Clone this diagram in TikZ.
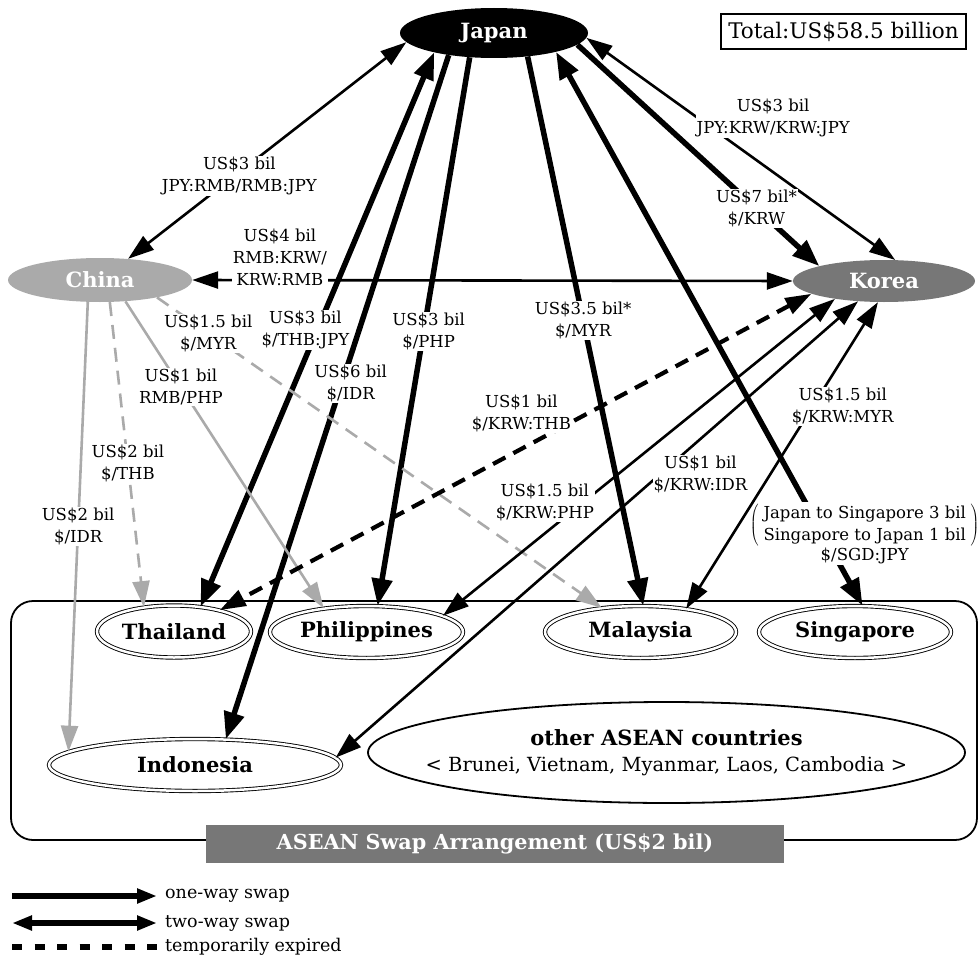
\documentclass[tikz,border=0pt]{standalone}
\usepackage{fontspec}
\setmainfont{DejaVu Serif}
\usetikzlibrary{shapes.geometric,arrows.meta,positioning}
\definecolor{cngray}{HTML}{AAAAAA}
\definecolor{krgray}{HTML}{777777}
\tikzset{
  big/.style={ellipse, inner sep=0pt, text=white, font=\fontsize{21}{25}\selectfont\bfseries},
  member/.style={ellipse, draw, double, double distance=2.5pt, line width=0.9pt,
    inner sep=0pt, minimum height=52pt, font=\fontsize{21}{25}\selectfont\bfseries},
  lbl/.style={fill=white, text=black, inner sep=1pt, align=center,
    font=\fontsize{16.5}{22}\selectfont},
  pact/.style={line width=2.6pt, >={Triangle[length=26pt,width=17pt]}},
  fat/.style={line width=5.5pt, >={Triangle[length=27pt,width=20pt]}},
  cn/.style={pact, cngray},
  gone/.style={dash pattern=on 14pt off 9pt},
  keyline/.style={line width=5.5pt, >={Triangle[length=20pt,width=14pt]}},
  keytext/.style={font=\fontsize{17.5}{20}\selectfont, inner sep=0pt}
}
\begin{document}
\begin{tikzpicture}[x=1pt, y=-1pt]
\useasboundingbox (0,0) rectangle (978,958);

% ASEAN frame
\node[draw, line width=1.8pt, rounded corners=22pt, minimum width=966pt,
  minimum height=239pt] (region) at (494,720.5) {};
\node[fill=krgray, text=white, inner sep=0pt, minimum width=578pt, minimum height=38pt,
  font=\fontsize{20.7}{24}\selectfont\bfseries] (swaparr) at (495,844)
  {ASEAN Swap Arrangement (US\$2 bil)};

\node[big, fill=black, minimum width=188pt, minimum height=50pt] (japan) at (494,33) {Japan};
\node[big, fill=cngray, minimum width=184pt, minimum height=44pt] (china) at (100,280) {China};
\node[big, fill=krgray, minimum width=182pt, minimum height=42pt] (korea) at (884,281) {Korea};
\node[draw, line width=1.1pt, minimum width=245pt, minimum height=35pt, inner sep=0pt,
  font=\fontsize{21.5}{24}\selectfont] (total) at (843.5,31.5) {Total:US\$58.5 billion};

\node[member, minimum width=154pt] (thailand) at (174,631.5) {Thailand};
\node[member, minimum width=193pt] (philippines) at (366.5,632) {Philippines};
\node[member, minimum width=191pt] (malaysia) at (640.5,632) {Malaysia};
\node[member, minimum width=192pt] (singapore) at (855,632) {Singapore};
\node[member, minimum width=292pt] (indonesia) at (195,765) {Indonesia};
\node[ellipse, draw, line width=1.8pt, inner ysep=0pt, inner xsep=-80pt, minimum width=597pt,
  minimum height=101pt, align=center, font=\fontsize{21}{26}\selectfont] (others) at (666.5,752.5)
  {\textbf{other ASEAN countries}\\{\fontsize{19.5}{22}\selectfont < Brunei, Vietnam, Myanmar, Laos, Cambodia >}};

% Japan
\draw[pact,<->] (japan.186) -- node[lbl, pos=0.6, yshift=-4pt] (jpcn) {US\$3 bil\\JPY:RMB/RMB:JPY} (china.37);
\draw[pact,<->] (japan.-3) -- node[lbl, pos=0.43, xshift=54pt, yshift=15pt] (jpkr) {US\$3 bil\\JPY:KRW/KRW:JPY} (korea.62);
\draw[fat,->] (japan.-8) -- node[lbl, pos=0.74] (jpkr2) {US\$7 bil*\\\$/KRW} (korea.167);
\draw[fat,<->] (japan.198) -- node[lbl, pos=0.5, xshift=-12pt] (jpth) {US\$3 bil\\\$/THB:JPY} (thailand.43);
\draw[fat,->] (japan.206) -- node[lbl, pos=0.48, xshift=9pt] (jpid) {US\$6 bil\\\$/IDR} (indonesia.40);
\draw[fat,->] (japan.225) -- node[lbl, pos=0.5, xshift=5pt] (jpph) {US\$3 bil\\\$/PHP} (philippines.67);
\draw[fat,->] (japan.-35) -- node[lbl, pos=0.48] (jpmy) {US\$3.5 bil*\\\$/MYR} (malaysia.84);
\draw[fat,<->] (japan.-17) -- node[lbl, pos=0.87, xshift=42pt] (jpsg)
  {$\left(\mkern5mu\mbox{\begin{tabular}{@{}c@{}}Japan to Singapore 3 bil\\Singapore to Japan 1 bil\end{tabular}}\mkern5mu\right)$\\\$/SGD:JPY} (singapore.74);

% China
\draw[pact,<->] (china.east) -- node[lbl, pos=0.146, yshift=23pt] (cnkr) {US\$4 bil\\RMB:KRW/\\KRW:RMB} (korea.west);
\draw[cn,gone,->] (china.-17) -- node[lbl, pos=0.115] (cnmy) {US\$1.5 bil\\\$/MYR} (malaysia.148);
\draw[cn,->] (china.-40) -- node[lbl, pos=0.28] (cnph) {US\$1 bil\\RMB/PHP} (philippines.151);
\draw[cn,gone,->] (china.-66) -- node[lbl, pos=0.53] (cnth) {US\$2 bil\\\$/THB} (thailand.141);
\draw[cn,->] (china.-119) -- node[lbl, pos=0.5] (cnid) {US\$2 bil\\\$/IDR} (indonesia.174);

% Korea
\draw[pact,line width=4.2pt,gone,<->] (korea.190) -- node[lbl, pos=0.49, yshift=35pt] (krth) {US\$1 bil\\\$/KRW:THB} (thailand.25);
\draw[pact,<->] (korea.200) -- node[lbl, pos=0.74, yshift=31pt] (krph) {US\$1.5 bil\\\$/KRW:PHP} (philippines.12);
\draw[pact,<->] (korea.218) -- node[lbl, pos=0.34, xshift=20pt, yshift=-18pt] (krid) {US\$1 bil\\\$/KRW:IDR} (indonesia.3);
\draw[pact,<->] (korea.254) -- node[lbl, pos=0.34, xshift=30pt] (krmy) {US\$1.5 bil\\\$/KRW:MYR} (malaysia.27);

% legend
\coordinate (k1a) at (12,896); \coordinate (k1b) at (157,896);
\coordinate (k2a) at (12,923); \coordinate (k2b) at (157,923);
\coordinate (k3a) at (12,947); \coordinate (k3b) at (157,947);
\draw[keyline,->] (k1a) -- (k1b);
\draw[keyline,<->] (k2a) -- (k2b);
\draw[keyline, dash pattern=on 10pt off 12.5pt] (k3a) -- (k3b);
\node[keytext, right=8pt of k1b] (k1) {one-way swap};
\node[keytext, right=8pt of k2b] (k2) {two-way swap};
\node[keytext, right=8pt of k3b] (k3) {temporarily expired};
\end{tikzpicture}
\end{document}
